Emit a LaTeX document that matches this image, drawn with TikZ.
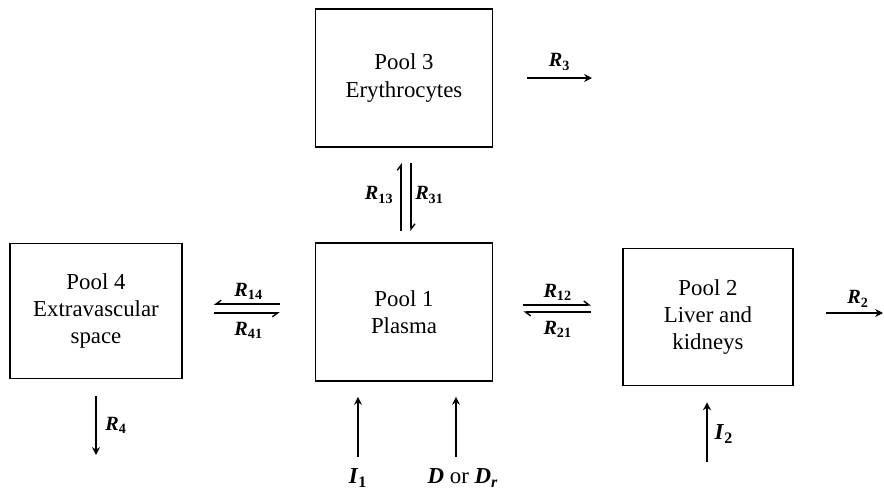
\documentclass[tikz,border=0pt]{standalone}
\usepackage{fontspec}
\setmainfont{Liberation Serif}
\usetikzlibrary{arrows.meta, positioning}
\newcommand{\rate}[1]{\textbf{\textit{R}\textsubscript{#1}}}
\newcommand{\inp}[1]{\textbf{\textit{#1}}}

\begin{document}
\begin{tikzpicture}[x=0.2mm, y=-0.2mm,
        pool/.style={draw, line width=1.1pt, minimum width=35.4mm, minimum height=27.6mm,
                     align=center, inner sep=0pt, font=\fontsize{13}{15.5}\selectfont},
        flow/.style={-{Stealth[length=4.5pt, width=4.5pt]}, line width=0.8pt},
        fwd/.style={-{Straight Barb[left, length=3pt, width=4.5pt]}, line width=0.8pt},
        bwd/.style={-{Straight Barb[right, length=3pt, width=4.5pt]}, line width=0.8pt},
        lbl/.style={font=\fontsize{11.5}{13}\selectfont, inner sep=2pt},
        inlbl/.style={font=\fontsize{13}{15}\selectfont, inner sep=1pt},
      ]
      \useasboundingbox (0,0) rectangle (884,491);
      \node[pool] (p3) at (404,78) {Pool 3\\ Erythrocytes};
      \node[pool] (p1) at (404,312) {Pool 1\\ Plasma};
      \node[pool, minimum width=34.4mm, minimum height=27mm] (p4) at (96,311) {Pool 4\\ Extravascular\\ space};
      \node[pool, minimum width=34mm, minimum height=27.4mm] (p2) at (708,317) {Pool 2\\ Liver and\\ kidneys};
      % free ends
      \coordinate (r3end) at (592,78);
      \coordinate (r2end) at (883,313);
      \coordinate (r4end) at (96,455);
      \coordinate (i2base) at (707,462);
      \coordinate (dbase) at (456,457);
      \node[inlbl] (i1) at (358,478) {\inp{I}\textsubscript{\textbf{1}}};
      \node[inlbl] (dose) at (463,478) {\inp{D} or \inp{D}\textsubscript{\textbf{\textit{r}}}};
      % exchange between pools
      \draw[fwd, shorten <=8.5pt, shorten >=6.2pt] ([xshift=4pt]p3.south) -- ([xshift=4pt]p1.north)
        node[midway, right, lbl]{\rate{31}};
      \draw[fwd, shorten <=6.2pt, shorten >=8.5pt] ([xshift=-1.6pt]p1.north) -- ([xshift=-1.6pt]p3.south)
        node[midway, left, lbl, xshift=-2pt]{\rate{13}};
      \draw[bwd, shorten <=19.8pt, shorten >=17.6pt] ([yshift=4.5pt]p1.west) -- ([yshift=4.5pt]p1.west -| p4.east)
        node[midway, above, lbl]{\rate{14}};
      \draw[bwd, shorten <=17.6pt, shorten >=19.8pt] ([yshift=-0.5pt]p1.west -| p4.east) -- ([yshift=-0.5pt]p1.west)
        node[midway, below, lbl, yshift=-3pt]{\rate{41}};
      \draw[fwd, shorten <=17pt, shorten >=17.6pt] ([yshift=4pt]p1.east) -- ([yshift=4pt]p1.east -| p2.west)
        node[midway, above, lbl]{\rate{12}};
      \draw[fwd, shorten <=17.6pt, shorten >=17pt] ([yshift=0pt]p1.east -| p2.west) -- ([yshift=0pt]p1.east)
        node[midway, below, lbl, yshift=-3pt]{\rate{21}};
      % losses and inputs
      \draw[flow, shorten <=19pt] (p3.east) -- (r3end) node[pos=0.67, above, lbl, yshift=2pt]{\rate{3}};
      \draw[flow, shorten <=18pt] (p2.east |- r2end) -- (r2end) node[pos=0.72, above, lbl, yshift=1pt]{\rate{2}};
      \draw[flow, shorten <=9.6pt] (p4.south) -- (r4end) node[pos=0.61, right, lbl, xshift=3pt]{\rate{4}};
      \draw[flow, shorten >=8.5pt] (i1.north |- dbase) -- (i1.north |- p1.south);
      \draw[flow, shorten >=8.5pt] (dbase) -- (dbase |- p1.south);
      \draw[flow, shorten >=9pt] (i2base) -- (i2base |- p2.south)
        node[pos=0.37, right, inlbl, xshift=3pt]{\inp{I}\textsubscript{\textbf{2}}};
    \end{tikzpicture}
\end{document}
